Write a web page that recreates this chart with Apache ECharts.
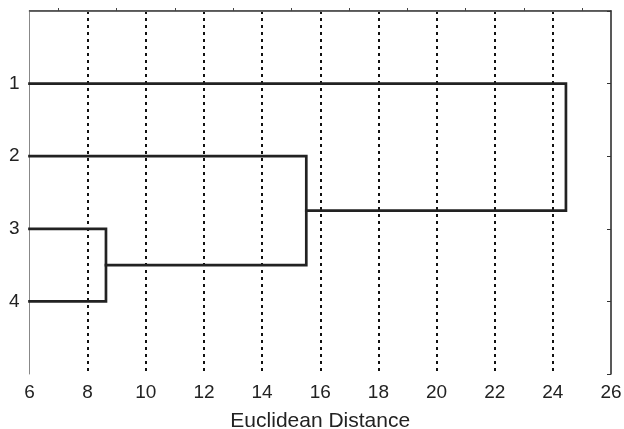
<!DOCTYPE html>
<html>
<head>
<meta charset="utf-8">
<script src="https://cdn.jsdelivr.net/npm/echarts@6/dist/echarts.min.js"></script>
<style>html,body{margin:0;padding:0;background:#fff;}#c{width:624px;height:429px;}</style>
</head>
<body>
<div id="c"></div>
<script>
// Leaves (top to bottom) and their row positions
const leafLabels = ['1', '2', '3', '4'];
const leafPos = [1, 2, 3, 4];
// Merges: [left child, right child, linkage distance]; children are leaf indices (0..3) or 'c' + merge index
const mergeA = ['2', 'c0', '0'];
const mergeB = ['3', '1', 'c1'];
const mergeDist = [8.63, 15.52, 24.45];
const xTicks = [6, 8, 10, 12, 14, 16, 18, 20, 22, 24, 26];
const baseDist = 6;

// Build dendrogram paths from the arrays
const nodes = {};
leafPos.forEach((p, i) => { nodes[String(i)] = { y: p, x: baseDist }; });
const series = [];
mergeDist.forEach((h, k) => {
  const a = nodes[mergeA[k]], b = nodes[mergeB[k]];
  series.push({
    type: 'line', symbol: 'none', silent: true,
    lineStyle: { color: '#222', width: 2.7, join: 'miter', cap: 'square' },
    data: [[a.x, a.y], [h, a.y], [h, b.y], [b.x, b.y]]
  });
  nodes['c' + k] = { y: (a.y + b.y) / 2, x: h };
});

const chart = echarts.init(document.getElementById('c'), null, { renderer: 'canvas' });
const font = '"Liberation Sans", Arial, sans-serif';
chart.setOption({
  animation: false,
  backgroundColor: '#fff',
  grid: { left: 29.5, right: 13, top: 11, bottom: 55, containLabel: false, outerBoundsMode: 'none' },
  xAxis: [{
    type: 'value', min: xTicks[0], max: xTicks[xTicks.length - 1], interval: 2,
    position: 'bottom',
    name: 'Euclidean Distance', nameLocation: 'middle', nameGap: 37,
    nameTextStyle: { fontFamily: font, fontSize: 21, color: '#222' },
    axisLine: { show: true, lineStyle: { color: '#222', width: 1.5 } },
    axisTick: { show: false },
    axisLabel: { fontFamily: font, fontSize: 19, color: '#222', margin: 9 },
    splitLine: { show: true, showMinLine: false, showMaxLine: false,
      lineStyle: { color: '#111', width: 2, type: [3, 4] } }
  }, {
    type: 'value', min: xTicks[0], max: xTicks[xTicks.length - 1], interval: 2,
    position: 'top',
    axisLine: { show: true, lineStyle: { color: '#666', width: 1 } },
    axisTick: { show: false },
    minorTick: { show: true, splitNumber: 2, length: 3, lineStyle: { color: '#444', width: 1 } },
    axisLabel: { show: false },
    splitLine: { show: false }
  }],
  yAxis: [{
    type: 'value', min: 0, max: 5, interval: 1, inverse: true, position: 'left',
    axisLine: { show: true, lineStyle: { color: '#888', width: 1 } },
    axisTick: { show: false },
    axisLabel: { fontFamily: font, fontSize: 19, color: '#222', margin: 10,
      formatter: v => (v >= 1 && v <= leafLabels.length) ? leafLabels[v - 1] : '' },
    splitLine: { show: false }
  }, {
    type: 'value', min: 0, max: 5, interval: 1, inverse: true, position: 'right',
    axisLine: { show: true, lineStyle: { color: '#222', width: 1.5 } },
    axisTick: { show: true, inside: true, length: 4, lineStyle: { color: '#333', width: 1 } },
    axisLabel: { show: false },
    splitLine: { show: false }
  }],
  series: series
});
</script>
</body>
</html>
